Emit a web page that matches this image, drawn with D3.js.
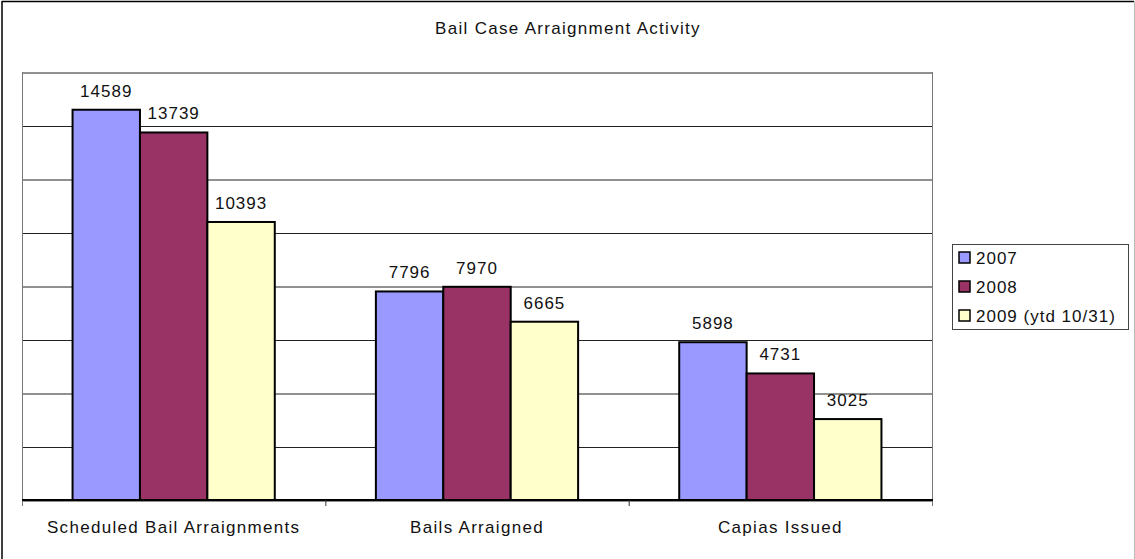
<html>
<head>
	<title>Bail Case Arraignment Activity</title>
	<style type="text/css">
		body{
			margin: 0;
			background-color: #fff;
		}
		svg text{
			font-family: "Liberation Sans", Arial, sans-serif;
			fill: #111;
			letter-spacing: 1px;
		}
		.grid line{
			stroke: #222;
			stroke-width: 1px;
		}
		.bar{
			stroke: #000;
			stroke-width: 2px;
		}
		.wide{
			letter-spacing: 1.3px;
		}
	</style>
	<script type="text/javascript" src="https://d3js.org/d3.v7.min.js"></script>
</head>
<body>
	<div id="chart"></div>

	<script type="text/javascript">
		// chart data
		var categories = ['Scheduled Bail Arraignments', 'Bails Arraigned', 'Capias Issued'];
		var series = ['2007', '2008', '2009 (ytd 10/31)'];
		var values2007 = [14589, 7796, 5898];
		var values2008 = [13739, 7970, 4731];
		var values2009 = [10393, 6665, 3025];
		var yTicks = [0, 2000, 4000, 6000, 8000, 10000, 12000, 14000, 16000];
		var colors = ['#9999FF', '#993366', '#FFFFCC'];

		var width = 1135, height = 559;
		var plot = {left: 22, right: 932, top: 72, bottom: 500};

		var seriesValues = [values2007, values2008, values2009];
		var rows = [];
		categories.forEach(function(c, i){
			series.forEach(function(s, j){
				rows.push({cat: c, ser: s, value: seriesValues[j][i]});
			});
		});

		var svg = d3.select('#chart')
			.append('svg')
			.attr('width', width)
			.attr('height', height);

		// outer frame
		svg.append('line').attr('x1', 1.5).attr('y1', 1.5).attr('x2', 1134).attr('y2', 1.5)
			.attr('stroke', '#000').attr('stroke-width', 1.5);
		svg.append('line').attr('x1', 2).attr('y1', 1.5).attr('x2', 2).attr('y2', 559)
			.attr('stroke', '#000').attr('stroke-width', 1.5);
		svg.append('line').attr('x1', 1134.5).attr('y1', 1.5).attr('x2', 1134.5).attr('y2', 559)
			.attr('stroke', '#bbb').attr('stroke-width', 1);

		var xScale = d3.scaleBand()
			.domain(categories)
			.range([plot.left, plot.right]);

		var xInner = d3.scaleBand()
			.domain(series)
			.range([0, xScale.bandwidth()])
			.paddingOuter(0.75);

		var yScale = d3.scaleLinear()
			.domain([0, 16000])
			.range([plot.bottom, plot.top]);

		var cScale = d3.scaleOrdinal()
			.domain(series)
			.range(colors);

		// gridlines
		var grid = svg.append('g')
			.attr('class', 'grid')
			.attr('transform', 'translate(' + plot.left + ',0)')
			.call(d3.axisLeft(yScale).tickValues(yTicks).tickSize(-(plot.right - plot.left)).tickFormat(''));
		grid.select('.domain').remove();
		grid.selectAll('line').attr('transform', 'translate(0,0.5)');

		// plot side borders
		svg.append('line').attr('x1', plot.left + 0.5).attr('x2', plot.left + 0.5)
			.attr('y1', plot.top).attr('y2', plot.bottom + 6)
			.attr('stroke', '#777').attr('stroke-width', 1);
		svg.append('line').attr('x1', plot.right + 0.5).attr('x2', plot.right + 0.5)
			.attr('y1', plot.top).attr('y2', plot.bottom + 6)
			.attr('stroke', '#777').attr('stroke-width', 1);

		// bars
		svg.selectAll('.bar')
			.data(rows)
			.enter()
			.append('rect')
			.attr('class', 'bar')
			.attr('x', function(d){ return xScale(d.cat) + xInner(d.ser); })
			.attr('y', function(d){ return yScale(d.value); })
			.attr('width', xInner.bandwidth())
			.attr('height', function(d){ return yScale(0) - yScale(d.value); })
			.attr('fill', function(d){ return cScale(d.ser); });

		// value labels
		svg.selectAll('.valueLabel')
			.data(rows)
			.enter()
			.append('text')
			.attr('class', 'valueLabel')
			.attr('x', function(d){ return xScale(d.cat) + xInner(d.ser) + xInner.bandwidth() / 2; })
			.attr('y', function(d){ return yScale(d.value) - 13; })
			.attr('text-anchor', 'middle')
			.style('font-size', '17px')
			.text(function(d){ return d.value; });

		// x axis
		var xAxis = d3.axisBottom(xScale).tickSize(0).tickPadding(20);
		var xAxisG = svg.append('g')
			.attr('transform', 'translate(0,' + plot.bottom + ')')
			.call(xAxis);
		xAxisG.select('.domain').remove();
		xAxisG.selectAll('text')
			.attr('class', 'wide')
			.attr('fill', '#111')
			.style('font-size', '17px')
			.style('font-family', '"Liberation Sans", Arial, sans-serif')
			.attr('dy', '0.75em');

		svg.append('line')
			.attr('x1', plot.left).attr('x2', plot.right + 1)
			.attr('y1', plot.bottom).attr('y2', plot.bottom)
			.attr('stroke', '#000').attr('stroke-width', 2);

		// category separators
		svg.selectAll('.sepTick')
			.data(categories.slice(1))
			.enter()
			.append('line')
			.attr('x1', function(d){ return xScale(d) + 0.5; })
			.attr('x2', function(d){ return xScale(d) + 0.5; })
			.attr('y1', plot.bottom)
			.attr('y2', plot.bottom + 6)
			.attr('stroke', '#333');

		// title
		svg.append('text')
			.attr('class', 'wide')
			.attr('x', 568)
			.attr('y', 34)
			.attr('text-anchor', 'middle')
			.style('font-size', '17px')
			.text('Bail Case Arraignment Activity');

		// legend
		var legend = svg.append('g').attr('transform', 'translate(952,244)');
		legend.append('rect')
			.attr('x', 0.5).attr('y', 0.5)
			.attr('width', 176).attr('height', 85)
			.attr('fill', '#fff')
			.attr('stroke', '#444');
		var items = legend.selectAll('.item')
			.data(series)
			.enter()
			.append('g')
			.attr('transform', function(d, i){ return 'translate(7,' + (14 + i * 29) + ')'; });
		items.append('rect')
			.attr('x', 0).attr('y', -6)
			.attr('width', 11).attr('height', 11)
			.attr('fill', function(d){ return cScale(d); })
			.attr('stroke', '#000')
			.attr('stroke-width', 1.5);
		items.append('text')
			.attr('x', 17)
			.attr('y', 6)
			.style('font-size', '17px')
			.text(function(d){ return d; });
	</script>
</body>
</html>
